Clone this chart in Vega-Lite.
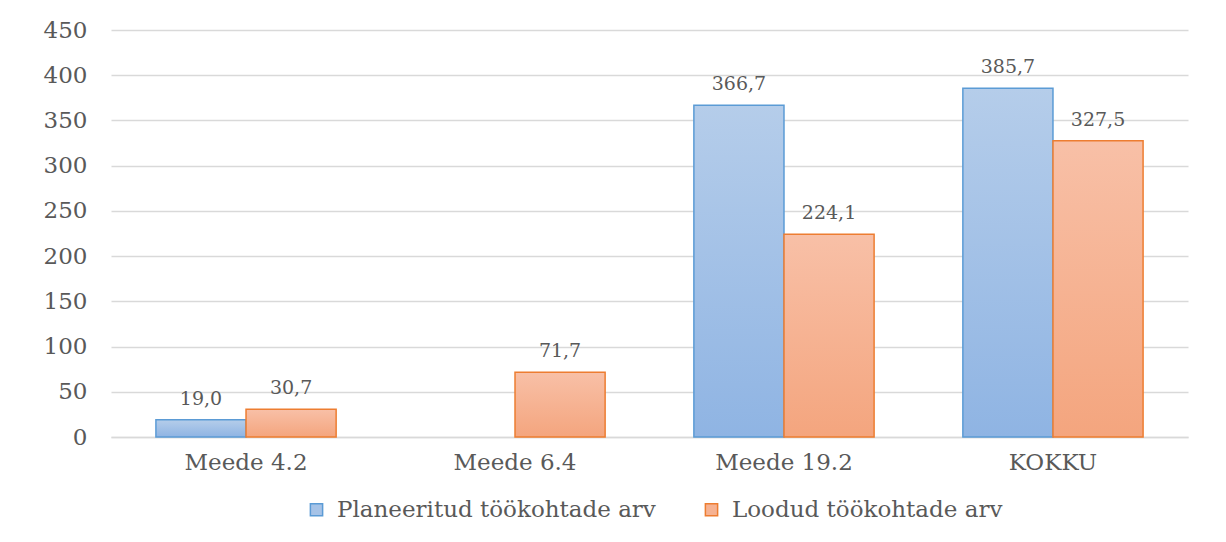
{
  "$schema": "https://vega.github.io/schema/vega-lite/v6.json",
  "width": 1077,
  "height": 407,
  "autosize": {"type": "none"},
  "padding": {"left": 111, "top": 30, "right": 38, "bottom": 105},
  "background": "white",
  "config": {
    "locale": {"number": {"decimal": ",", "thousands": " ", "grouping": [3], "currency": ["", " €"]}},
    "view": {"stroke": null},
    "font": "DejaVu Serif",
    "axis": {"labelFont": "DejaVu Serif", "labelColor": "#595959", "labelFontSize": 23}
  },
  "data": {
    "values": [
      {"meede": "Meede 4.2", "series": "Planeeritud töökohtade arv", "value": 19.0},
      {"meede": "Meede 4.2", "series": "Loodud töökohtade arv", "value": 30.7},
      {"meede": "Meede 6.4", "series": "Loodud töökohtade arv", "value": 71.7},
      {"meede": "Meede 19.2", "series": "Planeeritud töökohtade arv", "value": 366.7},
      {"meede": "Meede 19.2", "series": "Loodud töökohtade arv", "value": 224.1},
      {"meede": "KOKKU", "series": "Planeeritud töökohtade arv", "value": 385.7},
      {"meede": "KOKKU", "series": "Loodud töökohtade arv", "value": 327.5}
    ]
  },
  "encoding": {
    "x": {
      "field": "meede", "type": "nominal", "sort": ["Meede 4.2", "Meede 6.4", "Meede 19.2", "KOKKU"],
      "scale": {"paddingInner": 0.33, "paddingOuter": 0.167},
      "axis": {"title": null, "labelAngle": 0, "ticks": false, "domain": true, "domainColor": "#d9d9d9", "domainWidth": 1.5, "labelPadding": 14}
    },
    "xOffset": {
      "field": "series", "type": "nominal",
      "sort": ["Planeeritud töökohtade arv", "Loodud töökohtade arv"],
      "scale": {"domain": ["Planeeritud töökohtade arv", "Loodud töökohtade arv"], "paddingInner": 0, "paddingOuter": 0}
    },
    "y": {
      "field": "value", "type": "quantitative",
      "scale": {"domain": [0, 450], "nice": false},
      "axis": {"title": null, "values": [0, 50, 100, 150, 200, 250, 300, 350, 400, 450], "ticks": false, "domain": false, "gridColor": "#d9d9d9", "gridWidth": 1.5, "labelPadding": 24}
    }
  },
  "layer": [
    {
      "mark": {"type": "bar", "strokeWidth": 1.5},
      "encoding": {
        "fill": {
          "condition": {
            "test": "datum.series === 'Loodud töökohtade arv'",
            "value": {"gradient": "linear", "x1": 0, "y1": 0, "x2": 0, "y2": 1, "stops": [{"offset": 0, "color": "#f8c0a7"}, {"offset": 1, "color": "#f4a57e"}]}
          },
          "value": {"gradient": "linear", "x1": 0, "y1": 0, "x2": 0, "y2": 1, "stops": [{"offset": 0, "color": "#b5cdea"}, {"offset": 1, "color": "#8fb4e3"}]}
        },
        "stroke": {
          "condition": {"test": "datum.series === 'Loodud töökohtade arv'", "value": "#ed7d31"},
          "value": "#5b9bd5"
        }
      }
    },
    {
      "transform": [{"filter": "false"}],
      "mark": {"type": "square", "filled": true, "opacity": 1, "strokeWidth": 1.5},
      "encoding": {
        "color": {
          "field": "series", "type": "nominal",
          "scale": {"domain": ["Planeeritud töökohtade arv", "Loodud töökohtade arv"], "range": ["#a6c3e7", "#f6b292"]},
          "legend": {
            "title": null, "orient": "none", "direction": "horizontal",
            "legendX": 194, "legendY": 468,
            "symbolType": "square", "symbolSize": 150, "symbolStrokeWidth": 1.5,
            "labelFont": "DejaVu Serif", "labelFontSize": 23, "labelColor": "#595959", "labelLimit": 0,
            "labelOffset": 9, "columnPadding": 44
          }
        },
        "stroke": {
          "field": "series", "type": "nominal",
          "scale": {"domain": ["Planeeritud töökohtade arv", "Loodud töökohtade arv"], "range": ["#5b9bd5", "#ed7d31"]},
          "legend": {
            "title": null, "orient": "none", "direction": "horizontal",
            "legendX": 194, "legendY": 468,
            "symbolType": "square", "symbolSize": 150, "symbolStrokeWidth": 1.5,
            "labelFont": "DejaVu Serif", "labelFontSize": 23, "labelColor": "#595959", "labelLimit": 0,
            "labelOffset": 9, "columnPadding": 44
          }
        }
      }
    },
    {
      "mark": {"type": "text", "baseline": "alphabetic", "dy": -15, "fontSize": 19, "color": "#595959", "font": "DejaVu Serif"},
      "encoding": {
        "text": {"field": "value", "type": "quantitative", "format": ".1f"}
      }
    }
  ]
}
